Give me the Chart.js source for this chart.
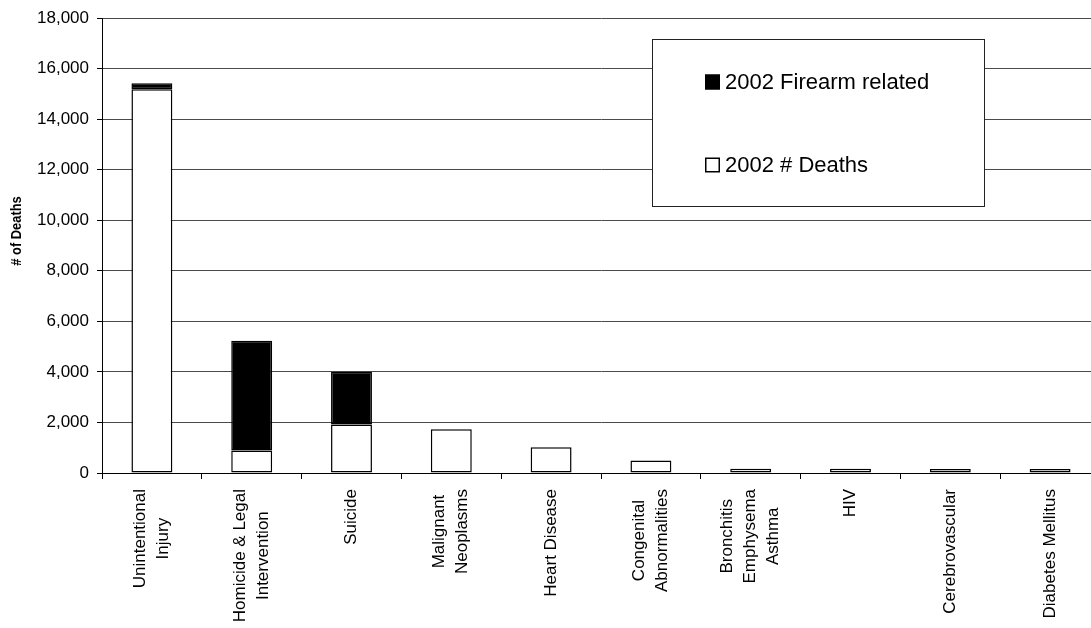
<!DOCTYPE html>
<html>
<head>
<meta charset="utf-8">
<script src="https://cdn.jsdelivr.net/npm/chart.js@4.4.1/dist/chart.umd.min.js"></script>
<style>
  html, body { margin: 0; padding: 0; background: #fff; overflow: hidden; }
  #wrap { width: 1091px; height: 628px; overflow: hidden; }
  canvas { display: block; }
</style>
</head>
<body>
<div id="wrap"><canvas id="c" width="1110" height="628"></canvas></div>
<script>
// Leading causes of death, 2002, with the firearm-related share stacked on top
const categories = [
  ['Unintentional', 'Injury'],
  ['Homicide & Legal', 'Intervention'],
  ['Suicide'],
  ['Malignant', 'Neoplasms'],
  ['Heart Disease'],
  ['Congenital', 'Abnormalities'],
  ['Bronchitis', 'Emphysema', 'Asthma'],
  ['HIV'],
  ['Cerebrovascular'],
  ['Diabetes Mellitus']
];
const deaths  = [15180, 890, 1920, 1730, 1020, 490, 170, 170, 158, 158];
const firearm = [240, 4340, 2090, null, null, null, null, null, null, null];
const yTicks  = [0, 2000, 4000, 6000, 8000, 10000, 12000, 14000, 16000, 18000];
const yTitle  = '# of Deaths';

const FONT = '"Liberation Sans", Arial, Helvetica, sans-serif';

// Category labels: rotated, multi-line, each line centred on the block
const xLabelPlugin = {
  id: 'xLabels',
  afterDraw(chart) {
    const ctx = chart.ctx, xs = chart.scales.x;
    ctx.save();
    ctx.font = '17px ' + FONT;
    ctx.fillStyle = '#000';
    ctx.textAlign = 'center';
    ctx.textBaseline = 'middle';
    categories.forEach((lines, i) => {
      const cx = xs.getPixelForTick(i);
      const maxW = Math.max(...lines.map(l => ctx.measureText(l).width));
      const cy = xs.top + 16 + maxW / 2;
      lines.forEach((line, j) => {
        const lx = cx + (j - (lines.length - 1) / 2) * 23;
        ctx.save();
        ctx.translate(lx, cy);
        ctx.rotate(-Math.PI / 2);
        ctx.fillText(line, 0, 0);
        ctx.restore();
      });
    });
    ctx.restore();
  }
};

// Vertical axis title
const yTitlePlugin = {
  id: 'yTitle',
  afterDraw(chart) {
    const ctx = chart.ctx;
    ctx.save();
    ctx.font = 'bold 14px ' + FONT;
    ctx.fillStyle = '#000';
    ctx.textAlign = 'center';
    ctx.textBaseline = 'middle';
    ctx.translate(17, 231);
    ctx.rotate(-Math.PI / 2);
    ctx.scale(0.92, 1);
    ctx.fillText(yTitle, 0, 0);
    ctx.restore();
  }
};

// Boxed legend inside the plot, top series listed first
const boxLegendPlugin = {
  id: 'boxLegend',
  afterDraw(chart) {
    const ctx = chart.ctx;
    const box = { x: 652, y: 39, w: 332, h: 167 };
    ctx.save();
    ctx.fillStyle = '#fff';
    ctx.fillRect(box.x, box.y, box.w, box.h);
    ctx.strokeStyle = '#222';
    ctx.lineWidth = 1;
    ctx.strokeRect(box.x + 0.5, box.y + 0.5, box.w, box.h);
    const items = chart.data.datasets.slice().reverse();
    const rows = [82, 165];
    ctx.font = '22px ' + FONT;
    ctx.textAlign = 'left';
    ctx.textBaseline = 'middle';
    items.forEach((ds, k) => {
      const y = rows[k];
      ctx.fillStyle = ds.backgroundColor;
      ctx.fillRect(705, y - 7.5, 15, 15);
      ctx.strokeStyle = '#000';
      ctx.lineWidth = 1.5;
      ctx.strokeRect(705.75, y - 6.75, 13.5, 13.5);
      ctx.fillStyle = '#000';
      ctx.fillText(ds.label, 725, y + 1);
    });
    ctx.restore();
  }
};

new Chart(document.getElementById('c'), {
  type: 'bar',
  data: {
    labels: categories.map(l => l.join(' ')),
    datasets: [
      {
        label: '2002 # Deaths',
        data: deaths,
        backgroundColor: '#ffffff',
        borderColor: '#000000',
        borderWidth: 1.5,
        borderSkipped: false,
        barPercentage: 0.41,
        categoryPercentage: 1.0
      },
      {
        label: '2002 Firearm related',
        data: firearm,
        backgroundColor: '#000000',
        borderColor: '#000000',
        borderWidth: 1.5,
        borderSkipped: false,
        barPercentage: 0.41,
        categoryPercentage: 1.0
      }
    ]
  },
  options: {
    responsive: false,
    animation: false,
    devicePixelRatio: 1,
    layout: { padding: { top: 18, right: 10, left: 0, bottom: 0 } },
    plugins: {
      legend: { display: false },
      tooltip: { enabled: false },
      title: { display: false }
    },
    scales: {
      x: {
        stacked: true,
        offset: true,
        border: { display: true, color: '#000', width: 1 },
        grid: { display: true, drawOnChartArea: false, drawTicks: true, tickLength: 6, tickColor: '#000', color: '#000' },
        ticks: { display: false },
        afterFit(scale) {
          scale.height = 155;
          scale.paddingLeft = 0;
          scale.paddingRight = 0;
        }
      },
      y: {
        stacked: true,
        min: 0,
        max: 18000,
        border: { display: true, color: '#000', width: 1 },
        grid: { color: '#4a4a4a', lineWidth: 1, drawTicks: true, tickLength: 5, tickColor: '#000' },
        afterBuildTicks(scale) {
          scale.ticks = yTicks.map(v => ({ value: v }));
        },
        ticks: {
          padding: 8,
          color: '#000',
          font: { family: FONT, size: 17 },
          callback: v => Number(v).toLocaleString('en-US')
        },
        afterFit(scale) {
          scale.width = 102;
          scale.paddingTop = 0;
          scale.paddingBottom = 0;
        }
      }
    }
  },
  plugins: [xLabelPlugin, yTitlePlugin, boxLegendPlugin]
});
</script>
</body>
</html>
